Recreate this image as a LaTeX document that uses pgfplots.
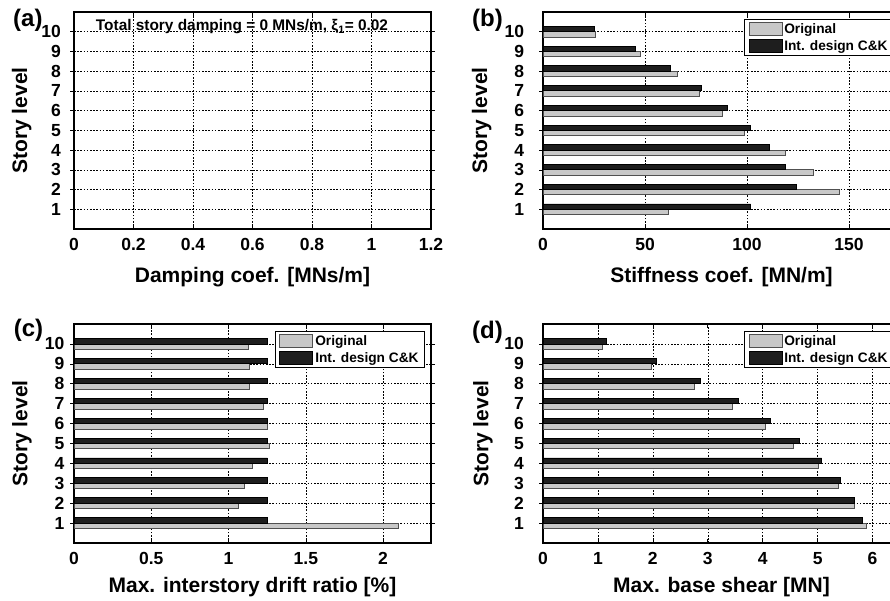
\documentclass[border=0pt]{standalone}
\usepackage{fontspec}
\setmainfont{Liberation Sans}
\usepackage{pgfplots}
\pgfplotsset{compat=1.18}

\definecolor{lightbar}{HTML}{C8C8C8}
\definecolor{lightedge}{HTML}{505050}
\definecolor{darkbar}{HTML}{1E1E1E}

\pgfplotstableread{
y orig cnk
1  61.6  101.8
2  145.2 124.0
3  132.5 118.8
4  118.6 111.1
5  98.6  101.8
6  88.0  90.6
7  76.7  77.4
8  66.0  62.4
9  47.7  45.3
10 25.7  25.3
}\stiff

\pgfplotstableread{
y orig cnk
1  2.099 1.251
2  1.066 1.251
3  1.105 1.251
4  1.156 1.251
5  1.262 1.251
6  1.253 1.251
7  1.228 1.251
8  1.137 1.251
9  1.133 1.251
10 1.126 1.251
}\drift

\pgfplotstableread{
y orig cnk
1  5.891 5.818
2  5.661 5.667
3  5.376 5.418
4  5.012 5.073
5  4.558 4.661
6  4.048 4.145
7  3.448 3.552
8  2.758 2.861
9  1.970 2.073
10 1.073 1.152
}\shear

\pgfplotsset{
  panel/.style={
    scale only axis, width=357pt,
    xmin=0, ymin=0, ymax=11, ytick={1,2,3,4,5,6,7,8,9,10},
    grid=major,
    major grid style={black, line width=0.55pt, dash pattern=on 1.6pt off 1.6pt},
    tick align=inside, major tick length=4pt,
    tick style={black, line width=0.6pt},
    axis line style={black, line width=1.1pt},
    /pgf/number format/assume math mode=true,
    tick label style={font=\fontsize{17.5}{19}\selectfont\bfseries},
    xticklabel style={anchor=base, yshift=-21.5pt},
    label style={font=\fontsize{21}{24}\selectfont\bfseries},
    ylabel={Story level},
    clip=false,
    xbar, bar width=0.27,
    legend cell align=left,
    legend image code/.code={\draw[##1, line width=0.8pt] (0pt,-6.5pt) rectangle (33pt,6.5pt);},
    legend style={draw=black, line width=0.9pt, at={(rel axis cs:1,1)}, anchor=north east,
      xshift=-6pt, yshift=-7pt, font=\fontsize{13.7}{15}\selectfont\bfseries,
      inner xsep=4pt, inner ysep=2pt, row sep=1.5pt, nodes={inner sep=2pt}},
  },
  origplot/.style={fill=lightbar, draw=lightedge, line width=0.8pt, bar shift=-0.135},
  cnkplot/.style={fill=darkbar, draw=black, line width=0.8pt, bar shift=0.135},
}

\begin{document}
\begin{tikzpicture}
% (a)
\begin{axis}[panel, at={(74pt,372pt)}, anchor=south west, height=217pt,
  xmax=1.2, xtick={0,0.2,0.4,0.6,0.8,1,1.2},
  xticklabels={0,0.2,0.4,0.6,0.8,1,1.2},
  xlabel={Damping coef. [MNs/m]},
  xlabel style={at={(axis description cs:0.5,-0.2488)}, anchor=base},
  ylabel style={at={(axis description cs:-0.1745,0.5)}, anchor=north, inner sep=0pt},
  yticklabel style={anchor=east, inner sep=0pt, xshift=-9pt}]
\node[anchor=base west, inner sep=0pt, font=\fontsize{24}{26}\selectfont\bfseries]
  at (rel axis cs:0,1) [xshift=-61pt, yshift=-14.5pt] {(a)};
\node[anchor=base, inner sep=0pt, font=\fontsize{15.4}{17}\selectfont\bfseries]
  at (rel axis cs:0.4706,1) [yshift=-18.7pt] {Total story damping = 0 MNs/m, ξ\textsubscript{1}= 0.02};
\end{axis}
% (b)
\begin{axis}[panel, at={(543pt,372pt)}, anchor=south west, height=217pt,
  xmax=175, xtick={0,50,100,150},
  xlabel={Stiffness coef. [MN/m]},
  xlabel style={at={(axis description cs:0.5,-0.2488)}, anchor=base},
  ylabel style={at={(axis description cs:-0.1997,0.5)}, anchor=north, inner sep=0pt},
  yticklabel style={anchor=east, inner sep=0pt, xshift=-14.7pt}]
\addplot[origplot] table[x=orig, y=y] {\stiff};
\addplot[cnkplot] table[x=cnk, y=y] {\stiff};
\legend{Original, Int. design C\&K}
\node[anchor=base west, inner sep=0pt, font=\fontsize{24}{26}\selectfont\bfseries]
  at (rel axis cs:0,1) [xshift=-71pt, yshift=-14.7pt] {(b)};
\end{axis}
% (c)
\begin{axis}[panel, at={(74pt,58pt)}, anchor=south west, height=219pt,
  xmax=2.31, xtick={0,0.5,1,1.5,2},
  xticklabels={0,0.5,1,1.5,2},
  xlabel={Max. interstory drift ratio [\%]},
  xlabel style={at={(axis description cs:0.5,-0.2283)}, anchor=base},
  ylabel style={at={(axis description cs:-0.1737,0.5)}, anchor=north, inner sep=0pt},
  yticklabel style={anchor=east, inner sep=0pt, xshift=-5.5pt}]
\addplot[origplot] table[x=orig, y=y] {\drift};
\addplot[cnkplot] table[x=cnk, y=y] {\drift};
\legend{Original, Int. design C\&K}
\node[anchor=base west, inner sep=0pt, font=\fontsize{24}{26}\selectfont\bfseries]
  at (rel axis cs:0,1) [xshift=-60.4pt, yshift=-13pt] {(c)};
\end{axis}
% (d)
\begin{axis}[panel, at={(543pt,58pt)}, anchor=south west, height=219pt,
  xmax=6.5, xtick={0,1,2,3,4,5,6},
  xlabel={Max. base shear [MN]},
  xlabel style={at={(axis description cs:0.5,-0.2283)}, anchor=base},
  ylabel style={at={(axis description cs:-0.196,0.5)}, anchor=north, inner sep=0pt},
  yticklabel style={anchor=east, inner sep=0pt, xshift=-15pt}]
\addplot[origplot] table[x=orig, y=y] {\shear};
\addplot[cnkplot] table[x=cnk, y=y] {\shear};
\legend{Original, Int. design C\&K}
\node[anchor=base west, inner sep=0pt, font=\fontsize{24}{26}\selectfont\bfseries]
  at (rel axis cs:0,1) [xshift=-71pt, yshift=-14.5pt] {(d)};
\end{axis}
\pgfresetboundingbox
\useasboundingbox (0pt,0pt) rectangle (890pt,601pt);
\end{tikzpicture}
\end{document}
